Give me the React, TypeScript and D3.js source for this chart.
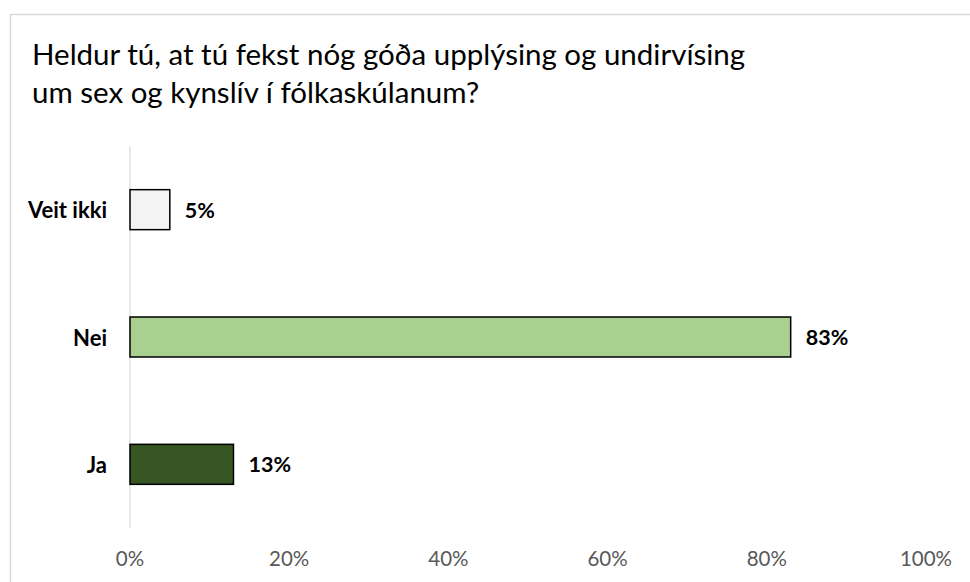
import React from "react";
import * as d3 from "d3";

const categories = ["Veit ikki", "Nei", "Ja"];
const values = [5, 83, 13];
const barColors = ["#F2F3F2", "#A9D08E", "#375623"];
const tickValues = [0, 20, 40, 60, 80, 100];
const titleLines = [
  "Heldur tú, at tú fekst nóg góða upplýsing og undirvísing",
  "um sex og kynslív í fólkaskúlanum?",
];

const W = 970;
const H = 582;
const FONT = "Lato, 'Open Sans', sans-serif";

export default function App() {
  const x = d3.scaleLinear().domain([0, 100]).range([130, 926]);
  const y = d3
    .scaleBand<string>()
    .domain(categories)
    .range([146, 528])
    .paddingInner(0.686)
    .paddingOuter(0.343);

  return (
    <svg
      width={W}
      height={H}
      style={{ position: "absolute", left: 0, top: 0, background: "#fff" }}
      fontFamily={FONT}
    >
      <rect x={10.5} y={14.5} width={1000} height={600} fill="#fff" stroke="#d9d9d9" strokeWidth={1.5} />
      {titleLines.map((t, i) => (
        <text key={i} x={32} y={65 + i * 37.5} fontSize={29.5} fill="#000">
          {t}
        </text>
      ))}
      <line x1={x(0)} x2={x(0)} y1={146} y2={528} stroke="#d9d9d9" strokeWidth={1.2} />
      {categories.map((c, i) => {
        const yy = y(c)!;
        const bw = y.bandwidth();
        return (
          <g key={c}>
            <rect
              x={x(0)}
              y={yy}
              width={x(values[i]) - x(0)}
              height={bw}
              fill={barColors[i]}
              stroke="#000"
              strokeWidth={1.5}
            />
            <text
              x={107}
              y={yy + bw / 2}
              textAnchor="end"
              dominantBaseline="central"
              fontWeight="bold"
              fontSize={22}
              fill="#000"
            >
              {c}
            </text>
            <text
              x={x(values[i]) + 15}
              y={yy + bw / 2}
              dominantBaseline="central"
              fontWeight="bold"
              fontSize={21.5}
              fill="#000"
            >
              {values[i]}%
            </text>
          </g>
        );
      })}
      {tickValues.map((t) => (
        <text key={t} x={x(t)} y={566} textAnchor="middle" fontSize={20.5} fill="#595959">
          {t}%
        </text>
      ))}
    </svg>
  );
}
